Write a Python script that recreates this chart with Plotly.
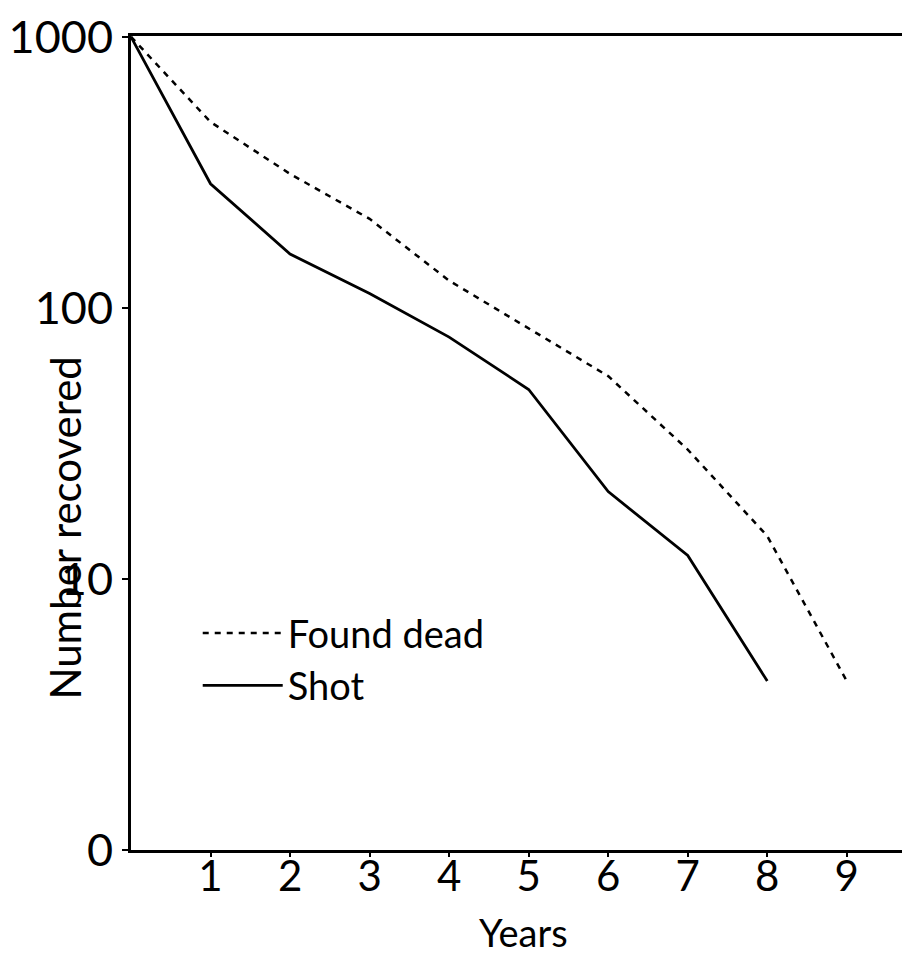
"""
Number recovered per year, found dead vs shot (log scale).
"""
import plotly.graph_objects as go

years = [0, 1, 2, 3, 4, 5, 6, 7, 8, 9]
found_dead = [1000, 485, 312, 213, 126, 84, 56, 30, 14.4, 4.2]

shot_years = [0, 1, 2, 3, 4, 5, 6, 7, 8]
shot = [1000, 287, 158, 113, 78, 50, 21, 12.2, 4.2]

y_tickvals = [1, 10, 100, 1000]
y_ticktext = ["0", "10", "100", "1000"]
x_tickvals = [1, 2, 3, 4, 5, 6, 7, 8, 9]

FONT = "Lato, 'Open Sans', sans-serif"

fig = go.Figure()
fig.add_trace(go.Scatter(
    x=years, y=found_dead, mode="lines", name="Found dead",
    line=dict(color="black", width=2.5, dash="6px,6px"),
))
fig.add_trace(go.Scatter(
    x=shot_years, y=shot, mode="lines", name="Shot",
    line=dict(color="black", width=2.8),
))

fig.update_layout(
    width=910, height=954,
    margin=dict(l=123, r=2, t=28, b=112),
    plot_bgcolor="white", paper_bgcolor="white",
    font=dict(family=FONT, color="black"),
    showlegend=True,
    legend=dict(
        x=0.085, y=0.305, xanchor="left", yanchor="top",
        font=dict(size=38), bgcolor="rgba(0,0,0,0)",
        itemwidth=80,
    ),
    xaxis=dict(
        range=[0, 9.87], tickvals=x_tickvals, ticks="outside",
        ticklen=4, tickwidth=2, tickcolor="black",
        tickfont=dict(size=42), ticklabelstandoff=-16,
        ticklabeloverflow="allow", automargin=False,
        showgrid=False, zeroline=False,
        showline=True, linewidth=3, linecolor="black", mirror=True,
    ),
    yaxis=dict(
        type="log", range=[0, 3.003], tickvals=y_tickvals, ticktext=y_ticktext,
        ticks="outside", ticklen=6, tickwidth=2, tickcolor="black",
        tickfont=dict(size=45), ticklabeloverflow="allow", automargin=False,
        showgrid=False, zeroline=False,
        showline=True, linewidth=3, linecolor="black", mirror=True,
    ),
    annotations=[
        dict(
            text="Number recovered", textangle=-90, showarrow=False,
            xref="paper", yref="paper", x=-0.084, y=0.395,
            xanchor="center", yanchor="middle",
            font=dict(size=42),
        ),
        dict(
            text="Years", showarrow=False,
            xref="paper", yref="paper", x=0.5, y=-0.131,
            xanchor="center", yanchor="bottom",
            font=dict(size=38),
        ),
    ],
)

fig.write_html("out.html")
